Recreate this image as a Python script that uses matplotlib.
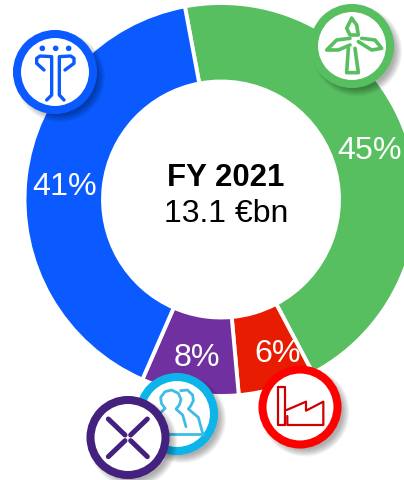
#!/usr/bin/env python

from matplotlib import pyplot as plt
from matplotlib.patches import Circle

segments = ['Wind', 'Industry', 'Other', 'Networks']
shares = [45.2, 6.3, 8.0, 40.5]
labels = ['45%', '6%', '8%', '41%']
colors = ['#57BF60', '#E81C00', '#7030A0', '#0A5AFF']
title = 'FY 2021'
total = '13.1 €bn'

H = 480

plt.rcParams['font.family'] = ['Liberation Sans', 'DejaVu Sans']

fig = plt.figure(figsize=(4.04, 4.8), dpi=100)
ax = fig.add_axes([0, 0, 1, 1])


def Y(y):
    return H - y


def badge(cx, cy, r, color, z):
    # soft shadow to the lower right
    for i in range(8):
        ax.add_patch(Circle((cx + 5, Y(cy + 5)), r + 3 - i, color='black', alpha=0.045, lw=0, zorder=z))
    ax.add_patch(Circle((cx, Y(cy)), r - 4, facecolor='white', edgecolor=color, lw=5.8, zorder=z + 0.1))


def line(pts, color, lw, z, off=(0, 0), scale=1.0):
    xs = [p[0] * scale + off[0] for p in pts]
    ys = [Y(p[1] * scale + off[1]) for p in pts]
    ax.plot(xs, ys, color=color, lw=lw, zorder=z, solid_capstyle='round', solid_joinstyle='round')


ax.pie(shares, colors=colors, startangle=90 + 10.6, counterclock=False,
       center=(221, Y(199.5)), radius=196.5, frame=False,
       wedgeprops=dict(width=78.5, edgecolor='white', linewidth=2.8))
ax.set_xlim(0, 404)
ax.set_ylim(0, H)
ax.set_aspect('equal')
ax.axis('off')

label_pos = [(369.5, 151), (277.5, 353.5), (196.5, 358), (64.5, 187)]
for lab, (x, y) in zip(labels, label_pos):
    ax.text(x, Y(y), lab, color='white', fontsize=23.2, ha='center', va='center', zorder=3)

ax.text(226, Y(178), title, color='black', fontsize=22.4, fontweight='bold', ha='center', va='center', zorder=3)
ax.text(226, Y(214), total, color='black', fontsize=23, ha='center', va='center', zorder=3)

# networks icon
badge(55, 72, 42, '#0A5AFF', 5)
z = 5.2
s = 1 / 3
for x in (127, 167, 206):
    ax.add_patch(Circle((x * s, Y(145 * s)), 2.8, color='#0A5AFF', lw=0, zorder=z))
line([(132, 210), (110, 190), (110, 175), (120, 168), (155, 170), (155, 285), (140, 300)], '#0A5AFF', 2.4, z, scale=s)
line([(195, 210), (222, 190), (222, 175), (212, 168), (178, 170), (178, 285), (192, 300)], '#0A5AFF', 2.4, z, scale=s)

# wind icon
badge(352, 46, 42, '#57BF60', 5)
off = (300, 0)
line([(155, 55), (170, 75), (175, 105), (150, 105), (140, 85), (155, 55)], '#57BF60', 2.6, z, off, s)
line([(150, 115), (110, 120), (80, 150), (115, 150), (150, 135)], '#57BF60', 2.6, z, off, s)
line([(185, 115), (225, 120), (245, 145), (215, 150), (175, 125)], '#57BF60', 2.6, z, off, s)
line([(145, 145), (140, 218), (175, 218), (165, 145)], '#57BF60', 2.6, z, off, s)

# people icon, sits under the cross badge
badge(177, 414, 41, '#0CB4EA', 6)
off = (70, 340)
cy_c = '#3FBCE6'
line([(270, 282), (400, 282)], cy_c, 2, 6.2, off, s)
line([(285, 205), (274, 190), (272, 172), (285, 155), (305, 150), (325, 160), (333, 178), (328, 195), (318, 207),
      (338, 225), (348, 260)], cy_c, 2, 6.2, off, s)
line([(332, 152), (352, 150), (368, 165), (370, 182), (362, 198), (355, 207), (385, 232), (398, 280)], cy_c, 2, 6.2, off, s)
line([(285, 205), (270, 220)], cy_c, 2, 6.2, off, s)

# other icon
badge(128, 437.5, 41.5, '#44207F', 7)
dark = '#44207F'
line([(115, 237), (165, 285)], dark, 3.6, 7.2, off, s)
line([(182, 302), (232, 350)], dark, 3.6, 7.2, off, s)
line([(232, 237), (182, 285)], dark, 3.6, 7.2, off, s)
line([(165, 302), (115, 350)], dark, 3.6, 7.2, off, s)

# factory icon
badge(300, 407, 41.5, '#FF0000', 5)
off = (230, 340)
fc = '#D00000'
line([(145, 140), (165, 140), (165, 255), (145, 255), (145, 140)], fc, 1.6, 5.2, off, s)
line([(170, 210), (228, 185), (228, 212), (280, 185), (280, 255), (172, 255), (172, 228)], fc, 1.6, 5.2, off, s)

fig.savefig('out.png', dpi=100)
